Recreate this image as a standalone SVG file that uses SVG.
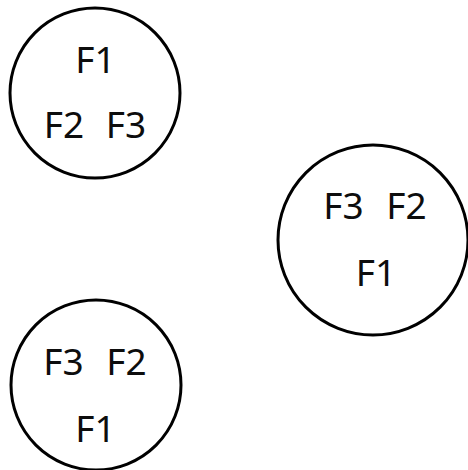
<svg xmlns="http://www.w3.org/2000/svg" width="468" height="470" viewBox="0 0 468 470">
  <style>
    .ring { fill: #ffffff; stroke: #000000; stroke-width: 3; }
    .lbl { font-family: "Noto Sans", "Liberation Sans", sans-serif; font-size: 37px; fill: #0d0d0d; text-anchor: middle; }
  </style>
  <rect width="468" height="470" fill="#ffffff"/>
  <g id="connectors"></g>
  <g id="node-top">
    <circle class="ring" cx="95" cy="93" r="85"/>
    <text class="lbl" x="95.5" y="73">F1</text>
    <text class="lbl" x="64" y="138">F2</text>
    <text class="lbl" x="126" y="138">F3</text>
  </g>
  <g id="node-right">
    <circle class="ring" cx="373" cy="240" r="95"/>
    <text class="lbl" x="343.5" y="219">F3</text>
    <text class="lbl" x="406.5" y="219">F2</text>
    <text class="lbl" x="376" y="286">F1</text>
  </g>
  <g id="node-bottom">
    <circle class="ring" cx="96" cy="385" r="85"/>
    <text class="lbl" x="63.5" y="375">F3</text>
    <text class="lbl" x="126.5" y="375">F2</text>
    <text class="lbl" x="95.5" y="442">F1</text>
  </g>
</svg>
